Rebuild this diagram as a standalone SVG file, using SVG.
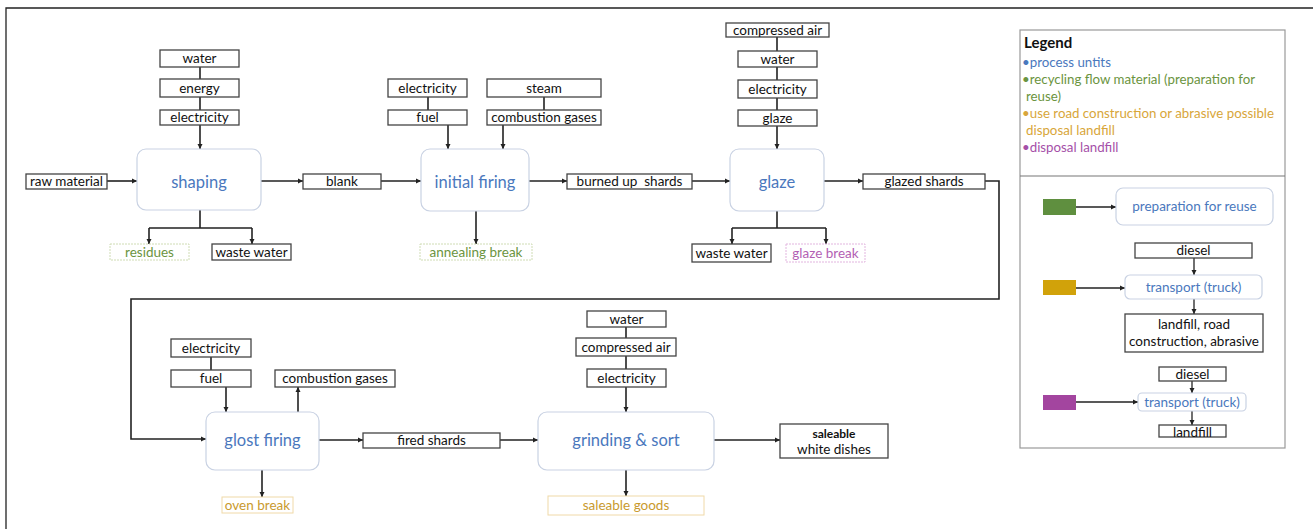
<svg xmlns="http://www.w3.org/2000/svg" width="1313" height="529" viewBox="0 0 1313 529">
<defs>
<marker id="ah" markerWidth="6" markerHeight="6" refX="5" refY="3" orient="auto" markerUnits="userSpaceOnUse">
<path d="M0,0.5 L5,3 L0,5.5 Z" fill="#222"/>
</marker>
<clipPath id="lfclip"><rect x="1159" y="425" width="67" height="12"/></clipPath>
<style>
.box{fill:#fff;stroke:#444;stroke-width:1.3}
.proc{fill:#fff;stroke:#c9d2e3;stroke-width:1.2}
.t{font-family:Lato,"Liberation Sans",sans-serif;font-size:13.5px;fill:#111;text-anchor:middle}
.pt{font-family:Lato,"Liberation Sans",sans-serif;font-size:16.5px;fill:#4a78bd;text-anchor:middle}
.lt{font-family:Lato,"Liberation Sans",sans-serif;font-size:13.5px;fill:#4a78bd;text-anchor:middle}
.ln{fill:none;stroke:#222;stroke-width:1.6}
.lna{fill:none;stroke:#222;stroke-width:1.6;marker-end:url(#ah)}
.gbox{fill:#fff;stroke:#cfdcb4;stroke-width:1;stroke-dasharray:2 1}
.gt{font-family:Lato,"Liberation Sans",sans-serif;font-size:13.5px;fill:#6b9440;text-anchor:middle}
.obox{fill:#fff;stroke:#f0d9a8;stroke-width:1}
.ot{font-family:Lato,"Liberation Sans",sans-serif;font-size:13.5px;fill:#c99a2e;text-anchor:middle}
.pbox{fill:#fff;stroke:#e2b5df;stroke-width:1;stroke-dasharray:2 1}
.pkt{font-family:Lato,"Liberation Sans",sans-serif;font-size:13.5px;fill:#b35fb3;text-anchor:middle}
.leg{font-family:Lato,"Liberation Sans",sans-serif;font-size:13.3px}
</style>
</defs>
<rect x="0" y="0" width="1313" height="529" fill="#fff"/>
<path d="M6,529 L6,8 L1313,8" fill="none" stroke="#222" stroke-width="1.3"/>

<g id="connectors">
<path class="ln" d="M200,67 V79 M200,97 V110"/>
<path class="lna" d="M200,125 V149"/>
<path class="lna" d="M107,181 H137"/>
<path class="lna" d="M261,181 H303"/>
<path class="lna" d="M381,181 H421"/>
<path class="ln" d="M200,210 V228 M149,228 H252"/>
<path class="lna" d="M149,228 V244"/>
<path class="lna" d="M252,228 V244"/>
<path class="ln" d="M428,97 V110 M544,97 V110"/>
<path class="lna" d="M448,125 V149"/>
<path class="lna" d="M503,125 V149"/>
<path class="lna" d="M529,181 H567"/>
<path class="lna" d="M476,211 V244"/>
<path class="lna" d="M692,181 H730"/>
<path class="ln" d="M777,37 V51 M777,67 V80 M777,98 V110"/>
<path class="lna" d="M777,126 V149"/>
<path class="lna" d="M824,181 H863"/>
<path class="ln" d="M777,211 V228 M732,228 H826"/>
<path class="lna" d="M732,228 V244"/>
<path class="lna" d="M826,228 V244"/>
<path class="lna" d="M985,181 H999 V299 H131 V439 H206"/>
<path class="ln" d="M211,357 V370"/>
<path class="lna" d="M226,387 V412"/>
<path class="lna" d="M298,412 V387"/>
<path class="lna" d="M319,440 H363"/>
<path class="lna" d="M500,440 H538"/>
<path class="lna" d="M262,470 V497"/>
<path class="ln" d="M626,327 V338 M626,356 V369"/>
<path class="lna" d="M626,387 V412"/>
<path class="lna" d="M714,440 H780"/>
<path class="lna" d="M626,470 V496"/>
<path class="lna" d="M1076,207 H1116" style="stroke-width:1.3"/>
<path class="lna" d="M1194,258 V275" style="stroke-width:1.3"/>
<path class="lna" d="M1076,288 H1125" style="stroke-width:1.3"/>
<path class="lna" d="M1194,299 V314" style="stroke-width:1.3"/>
<path class="lna" d="M1192,381 V393" style="stroke-width:1.3"/>
<path class="lna" d="M1076,402 H1138" style="stroke-width:1.3"/>
<path class="lna" d="M1192,411 V425" style="stroke-width:1.3"/>
</g>

<g id="shaping"><rect class="proc" x="137" y="149" width="124" height="61" rx="9"/><text class="pt" x="199" y="188">shaping</text></g>
<g id="shaping-water"><rect class="box" x="160" y="50" width="79" height="17"/><text class="t" x="199.5" y="63">water</text></g>
<g id="shaping-energy"><rect class="box" x="160" y="79" width="79" height="18"/><text class="t" x="199.5" y="92.5">energy</text></g>
<g id="shaping-electricity"><rect class="box" x="160" y="110" width="79" height="15"/><text class="t" x="199.5" y="122">electricity</text></g>
<g id="raw-material"><rect class="box" x="26" y="174" width="81" height="15"/><text class="t" x="66.5" y="186">raw material</text></g>
<g id="blank"><rect class="box" x="303" y="174" width="78" height="15"/><text class="t" x="342" y="186">blank</text></g>
<g id="residues"><rect class="gbox" x="110" y="244" width="79" height="16"/><text class="gt" x="149.5" y="256.5">residues</text></g>
<g id="waste-water-1"><rect class="box" x="212" y="244" width="79" height="16"/><text class="t" x="251.5" y="256.5">waste water</text></g>

<g id="initial-firing"><rect class="proc" x="421" y="149" width="108" height="62" rx="9"/><text class="pt" x="475" y="188">initial firing</text></g>
<g id="if-electricity"><rect class="box" x="388" y="79" width="79" height="18"/><text class="t" x="427.5" y="92.5">electricity</text></g>
<g id="if-fuel"><rect class="box" x="388" y="110" width="79" height="15"/><text class="t" x="427.5" y="122">fuel</text></g>
<g id="if-steam"><rect class="box" x="487" y="79" width="114" height="18"/><text class="t" x="544" y="92.5">steam</text></g>
<g id="if-combustion"><rect class="box" x="487" y="110" width="114" height="15"/><text class="t" x="544" y="122">combustion gases</text></g>
<g id="burned-up-shards"><rect class="box" x="567" y="174" width="125" height="15"/><text class="t" x="629.5" y="186" xml:space="preserve">burned up  shards</text></g>
<g id="annealing-break"><rect class="gbox" x="420" y="244" width="112" height="16"/><text class="gt" x="476" y="256.5">annealing break</text></g>

<g id="glaze"><rect class="proc" x="730" y="149" width="94" height="62" rx="9"/><text class="pt" x="777" y="188">glaze</text></g>
<g id="gl-compressed-air"><rect class="box" x="726" y="23" width="103" height="14"/><text class="t" x="777.5" y="34.5">compressed air</text></g>
<g id="gl-water"><rect class="box" x="738" y="51" width="79" height="16"/><text class="t" x="777.5" y="63.5">water</text></g>
<g id="gl-electricity"><rect class="box" x="738" y="80" width="79" height="18"/><text class="t" x="777.5" y="93.5">electricity</text></g>
<g id="gl-glaze"><rect class="box" x="738" y="110" width="79" height="16"/><text class="t" x="777.5" y="122.5">glaze</text></g>
<g id="glazed-shards"><rect class="box" x="863" y="174" width="122" height="15"/><text class="t" x="924" y="186">glazed shards</text></g>
<g id="waste-water-2"><rect class="box" x="692" y="244" width="79" height="18"/><text class="t" x="731.5" y="257.5">waste water</text></g>
<g id="glaze-break"><rect class="pbox" x="786" y="244" width="79" height="18"/><text class="pkt" x="825.5" y="257.5">glaze break</text></g>

<g id="glost-firing"><rect class="proc" x="206" y="412" width="113" height="58" rx="9"/><text class="pt" x="262.5" y="446">glost firing</text></g>
<g id="gf-electricity"><rect class="box" x="171" y="339" width="80" height="18"/><text class="t" x="211" y="352.5">electricity</text></g>
<g id="gf-fuel"><rect class="box" x="171" y="370" width="80" height="17"/><text class="t" x="211" y="383">fuel</text></g>
<g id="gf-combustion"><rect class="box" x="275" y="370" width="120" height="17"/><text class="t" x="335" y="383">combustion gases</text></g>
<g id="fired-shards"><rect class="box" x="363" y="433" width="137" height="15"/><text class="t" x="431.5" y="445">fired shards</text></g>
<g id="oven-break"><rect class="obox" x="222" y="497" width="71" height="16"/><text class="ot" x="257.5" y="509.5">oven break</text></g>

<g id="grinding-sort"><rect class="proc" x="538" y="412" width="176" height="58" rx="9"/><text class="pt" x="626" y="446">grinding &amp; sort</text></g>
<g id="gs-water"><rect class="box" x="587" y="311" width="79" height="16"/><text class="t" x="626.5" y="323.5">water</text></g>
<g id="gs-compressed-air"><rect class="box" x="576" y="338" width="100" height="18"/><text class="t" x="626" y="351.5">compressed air</text></g>
<g id="gs-electricity"><rect class="box" x="587" y="369" width="79" height="18"/><text class="t" x="626.5" y="382.5">electricity</text></g>
<g id="saleable-white-dishes"><rect class="box" x="780" y="424" width="108" height="34"/><text class="t" x="834" y="438" style="font-size:12px;font-weight:bold">saleable</text><text class="t" x="834" y="454">white dishes</text></g>
<g id="saleable-goods"><rect class="obox" x="548" y="496" width="156" height="19"/><text class="ot" x="626" y="510">saleable goods</text></g>

<g id="legend">
<rect x="1020" y="30" width="265" height="418" fill="none" stroke="#999" stroke-width="1.2"/>
<line x1="1020" y1="176" x2="1285" y2="176" stroke="#777" stroke-width="1.2"/>
<text x="1024" y="48" style="font-family:Lato,'Liberation Sans',sans-serif;font-size:15px;font-weight:bold;fill:#111">Legend</text>
<text class="leg" x="1022" y="67" fill="#4a78bd">•process untits</text>
<text class="leg" x="1022" y="84" fill="#6b9440">•recycling flow material (preparation for</text>
<text class="leg" x="1026" y="101" fill="#6b9440">reuse)</text>
<text class="leg" x="1022" y="118" fill="#d8a63a">•use road construction or abrasive possible</text>
<text class="leg" x="1026" y="135" fill="#d8a63a">disposal landfill</text>
<text class="leg" x="1022" y="152" fill="#a550a8">•disposal landfill</text>
</g>
<g id="legend-green"><rect x="1043" y="199" width="33" height="16" fill="#5f8f3f"/></g>
<g id="legend-reuse"><rect class="proc" x="1116" y="188" width="157" height="37" rx="7"/><text class="lt" x="1194.5" y="211">preparation for reuse</text></g>
<g id="legend-diesel-1"><rect class="box" x="1135" y="243" width="117" height="15"/><text class="t" x="1193.5" y="255">diesel</text></g>
<g id="legend-gold"><rect x="1043" y="280" width="33" height="15" fill="#d1a20a"/></g>
<g id="legend-truck-1"><rect class="proc" x="1125" y="275" width="137" height="24" rx="5"/><text class="lt" x="1193.5" y="291.5">transport (truck)</text></g>
<g id="legend-landfill-road"><rect class="box" x="1125" y="314" width="138" height="38"/><text class="t" x="1194" y="329">landfill, road</text><text class="t" x="1194" y="346">construction, abrasive</text></g>
<g id="legend-diesel-2"><rect class="box" x="1159" y="367" width="67" height="14"/><text class="t" x="1192.5" y="378.5">diesel</text></g>
<g id="legend-purple"><rect x="1043" y="395" width="33" height="15" fill="#a3459f"/></g>
<g id="legend-truck-2"><rect class="proc" x="1138" y="393" width="108" height="18" rx="4"/><text class="lt" x="1192" y="406.5">transport (truck)</text></g>
<g id="legend-landfill"><rect class="box" x="1159" y="425" width="67" height="12"/><text class="t" x="1192.5" y="437" clip-path="url(#lfclip)">landfill</text></g>
</svg>
